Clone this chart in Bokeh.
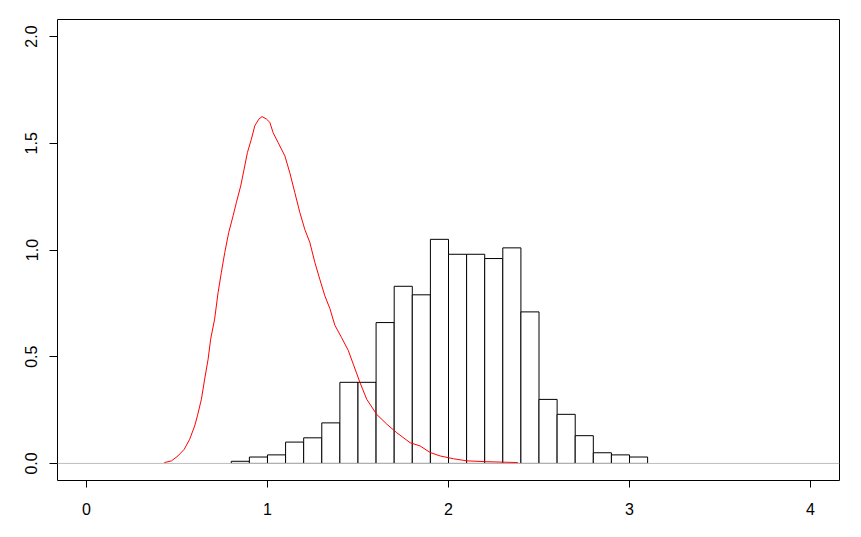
from bokeh.plotting import figure
from bokeh.models import Range1d, FixedTicker, Span, ColumnDataSource
from bokeh.embed import file_html
from bokeh.resources import INLINE

# Histogram (density scale), bin width 0.1
bin_left = [0.8, 0.9, 1.0, 1.1, 1.2, 1.3, 1.4, 1.5, 1.6, 1.7, 1.8, 1.9,
            2.0, 2.1, 2.2, 2.3, 2.4, 2.5, 2.6, 2.7, 2.8, 2.9, 3.0]
bin_right = [0.9, 1.0, 1.1, 1.2, 1.3, 1.4, 1.5, 1.6, 1.7, 1.8, 1.9, 2.0,
             2.1, 2.2, 2.3, 2.4, 2.5, 2.6, 2.7, 2.8, 2.9, 3.0, 3.1]
bin_density = [0.01, 0.03, 0.04, 0.10, 0.12, 0.19, 0.38, 0.38, 0.66, 0.83, 0.79, 1.05,
               0.98, 0.98, 0.96, 1.01, 0.71, 0.30, 0.23, 0.13, 0.05, 0.04, 0.03]

# Red density curve
curve_x = [0.43, 0.47, 0.505, 0.54, 0.57, 0.598, 0.613, 0.635, 0.653, 0.672, 0.686,
           0.708, 0.727, 0.745, 0.764, 0.786, 0.810, 0.828, 0.852, 0.871, 0.889,
           0.911, 0.930, 0.952, 0.970, 0.994, 1.013, 1.031, 1.059, 1.096, 1.123,
           1.151, 1.179, 1.206, 1.234, 1.262, 1.289, 1.317, 1.345, 1.372, 1.409,
           1.446, 1.474, 1.511, 1.548, 1.603, 1.659, 1.714, 1.788, 1.843, 1.899,
           1.954, 2.027, 2.101, 2.212, 2.30, 2.383]
curve_y = [0.004, 0.012, 0.035, 0.066, 0.113, 0.176, 0.223, 0.301, 0.395, 0.488, 0.582,
           0.676, 0.800, 0.894, 0.988, 1.082, 1.160, 1.222, 1.300, 1.379, 1.456,
           1.519, 1.582, 1.613, 1.625, 1.614, 1.598, 1.550, 1.503, 1.441, 1.363,
           1.269, 1.175, 1.097, 1.035, 0.941, 0.863, 0.785, 0.725, 0.648, 0.590,
           0.530, 0.465, 0.379, 0.301, 0.230, 0.184, 0.144, 0.097, 0.082, 0.051,
           0.035, 0.022, 0.012, 0.008, 0.006, 0.004]

x_ticks = [0, 1, 2, 3, 4]
y_ticks = [0.0, 0.5, 1.0, 1.5, 2.0]
y_tick_labels = ["0.0", "0.5", "1.0", "1.5", "2.0"]

p = figure(frame_width=782, frame_height=461,
           min_border_left=57, min_border_right=14,
           min_border_top=19, min_border_bottom=49,
           x_range=Range1d(-0.16, 4.16), y_range=Range1d(-0.08, 2.08),
           output_backend="svg", toolbar_location=None,
           background_fill_color="white", border_fill_color="white")

p.xgrid.visible = False
p.ygrid.visible = False
p.outline_line_color = "black"
p.outline_line_width = 1
p.outline_line_alpha = 1.0

font = "Liberation Sans"
for ax in (p.xaxis[0], p.yaxis[0]):
    ax.axis_line_color = None
    ax.major_tick_line_color = "black"
    ax.minor_tick_line_color = None
    ax.major_tick_in = 0
    ax.major_label_text_font = font
    ax.major_label_text_font_size = "16px"
    ax.major_label_text_color = "black"

p.xaxis.ticker = FixedTicker(ticks=x_ticks)
p.xaxis.major_tick_out = 7
p.xaxis.major_label_standoff = 15

p.yaxis.ticker = FixedTicker(ticks=y_ticks)
p.yaxis.major_label_overrides = {t: l for t, l in zip(y_ticks, y_tick_labels)}
p.yaxis.major_tick_out = 8
p.yaxis.major_label_standoff = 12
p.yaxis.major_label_orientation = "vertical"

hist_src = ColumnDataSource(dict(left=bin_left, right=bin_right,
                                 top=bin_density, bottom=[0] * len(bin_density)))
p.quad(left="left", right="right", top="top", bottom="bottom", source=hist_src,
       fill_color="white", line_color="black", line_width=1)

p.add_layout(Span(location=0, dimension="width", line_color="#bebebe", line_width=1))

p.line(curve_x, curve_y, line_color="red", line_width=1)

with open("out.html", "w") as f:
    f.write(file_html(p, INLINE))
